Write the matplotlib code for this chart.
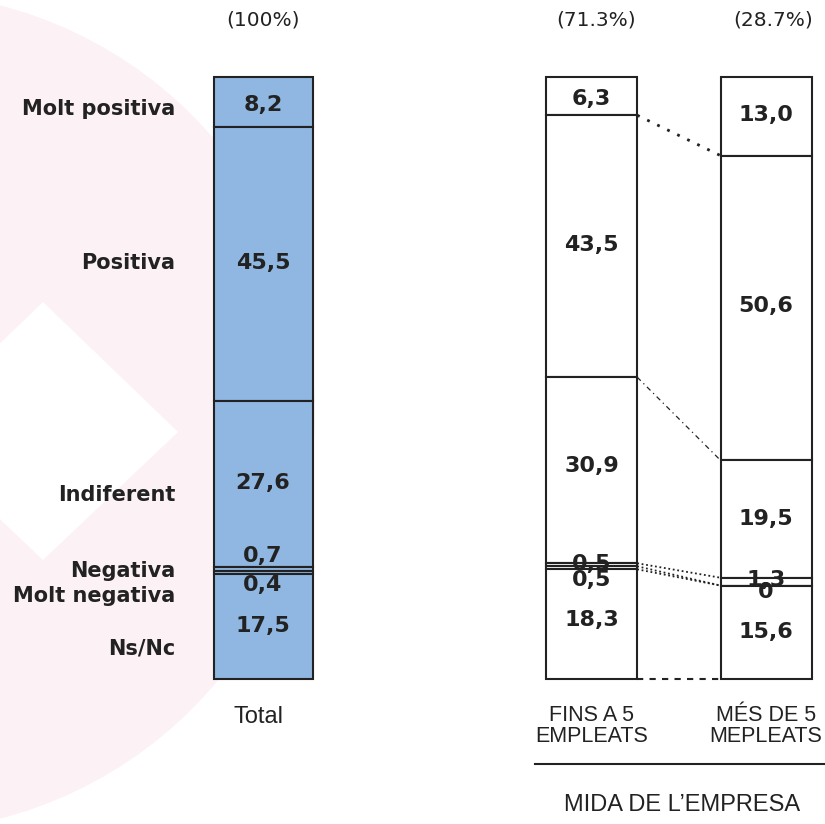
import numpy as np
import matplotlib
matplotlib.use("Agg")
import matplotlib.pyplot as plt
from matplotlib.patches import Circle, Polygon

# %%	data										 |

categories = ["Molt positiva", "Positiva", "Indiferent", "Negativa", "Molt negativa", "Ns/Nc"]
total = [8.2, 45.5, 27.6, 0.7, 0.4, 17.5]
fins_5 = [6.3, 43.5, 30.9, 0.5, 0.5, 18.3]
mes_5 = [13.0, 50.6, 19.5, 1.3, 0.0, 15.6]
shares = ["(100%)", "(71.3%)", "(28.7%)"]
group_names = ["Total", "FINS A 5\nEMPLEATS", "MÉS DE 5\nMEPLEATS"]
axis_title = "MIDA DE L\u2019EMPRESA"

# %%	layout (figure pixels)										 |

W, H = 825, 824
bar_top, bar_bottom = 77.3, 679.5
px_per_pct = (bar_bottom - bar_top) / 100.0
bar_x = [263, 591.7, 766]
bar_w = [99, 91, 91]
bar_colors = ["#8fb7e1", "white", "white"]
edge = "#222222"

cat_x = 175
cat_baseline = [115, 269, 501, 577, 602, 655]
# nudges (px, downward) for value labels that sit on thin segments
label_nudge = [
    [5, 1, 1, -11, 15, 2],
    [5, 1, -2, 1, 14, -2],
    [1, 0, 2, 0, 8, 1],
]


def fmt(v):
    if v == 0:
        return "0"
    return f"{v:.1f}".replace(".", ",")


fig = plt.figure(figsize=(W / 100, H / 100), dpi=100)

# background decoration in pixel coords
bg = fig.add_axes([0, 0, 1, 1])
bg.set_xlim(0, W)
bg.set_ylim(H, 0)
bg.axis("off")
bg.add_patch(Circle((-105, 412), 420, color="#fcf1f5", lw=0))
bg.add_patch(Polygon([(43, 302), (178, 432), (43, 560), (-92, 432)], color="white", lw=0))

# main axes: x in pixels, y in percent (downwards)
ax = fig.add_axes([0, 0, 1, 1])
ax.set_facecolor("none")
ax.set_xlim(0, W)
ax.set_ylim((H - bar_top) / px_per_pct, -bar_top / px_per_pct)
ax.axis("off")

series = [total, fins_5, mes_5]
cums = []
for i, vals in enumerate(series):
    vals = np.array(vals)
    bottoms = np.concatenate([[0], np.cumsum(vals)[:-1]])
    cums.append(np.cumsum(vals))
    ax.bar([bar_x[i]] * len(vals), vals, bottom=bottoms, width=bar_w[i],
           color=bar_colors[i], edgecolor=edge, linewidth=1.5, zorder=2)
    for j, v in enumerate(vals):
        ax.annotate(fmt(v), (bar_x[i], bottoms[j] + v / 2),
                    xytext=(0, -(label_nudge[i][j] - 2) * 0.72), textcoords="offset points",
                    ha="center", va="center", fontsize=16, fontweight="bold",
                    color="#222222", zorder=4)

# connectors between the two size bars
xl = bar_x[1] + bar_w[1] / 2
xr = bar_x[2] - bar_w[2] / 2
styles = {0: (0, (1, 3)), 1: (0, (4, 3, 1, 3)), 2: (0, (1, 1.5)), 3: (0, (1, 1.5)), 4: (0, (1, 1.5)),
          5: (0, (3, 3))}
widths = {0: 2.0, 1: 0.9, 2: 1.3, 3: 1.3, 4: 1.3, 5: 1.5}
for k in range(6):
    ax.plot([xl, xr], [cums[1][k], cums[2][k]], color=edge,
            linestyle=styles[k], linewidth=widths[k], zorder=1)

# category labels
for name, yb in zip(categories, cat_baseline):
    bg.text(cat_x, yb, name, ha="right", va="baseline", fontsize=15,
            fontweight="bold", color="#222222")

# shares above bars
for s, x in zip(shares, [263, 596, 773]):
    bg.text(x, 20, s, ha="center", va="center", fontsize=14.5, color="#222222")

# group names below bars
bg.text(259, 717, group_names[0], ha="center", va="center", fontsize=17,
        family="Liberation Sans", color="#222222")
for g, x in zip(group_names[1:], bar_x[1:]):
    bg.text(x, 705, g, ha="center", va="top", fontsize=15.5, linespacing=1.0,
            family="Liberation Sans", color="#222222")

bg.plot([535, 825], [764, 764], color="#222222", linewidth=1.5)
bg.text(682, 805, axis_title, ha="center", va="center", fontsize=17,
        family="Liberation Sans", color="#222222")

fig.savefig("out.png", dpi=100)
